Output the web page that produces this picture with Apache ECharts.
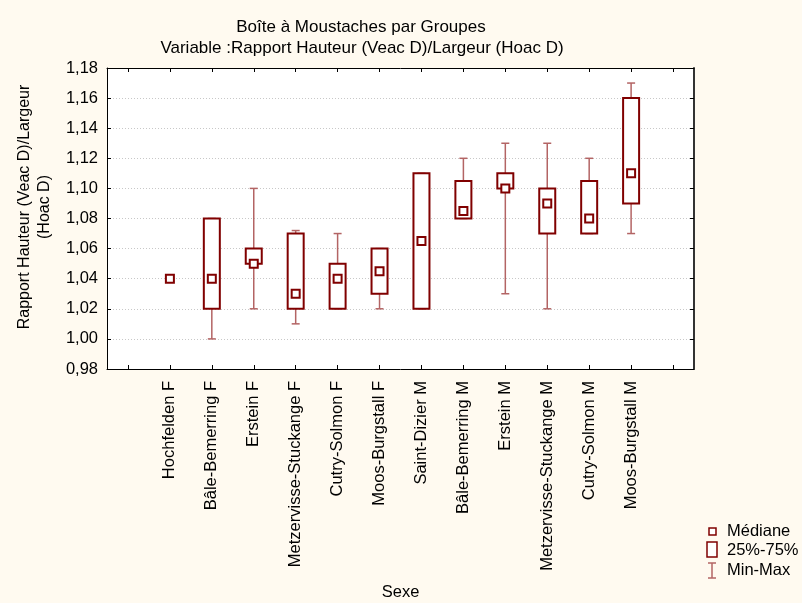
<!DOCTYPE html>
<html>
<head>
<meta charset="utf-8">
<script src="https://cdn.jsdelivr.net/npm/echarts@6/dist/echarts.min.js"></script>
<style>
  html, body { margin: 0; padding: 0; background: #fffaf0; }
  #chart { width: 802px; height: 603px; }
</style>
</head>
<body>
<div id="chart"></div>
<script>
// Groups along the x axis (an empty slot at each end leaves a margin)
const categories = ['', 'Hochfelden F', 'Bâle-Bemerring F', 'Erstein F', 'Metzervisse-Stuckange F',
  'Cutry-Solmon F', 'Moos-Burgstall F', 'Saint-Dizier M', 'Bâle-Bemerring M', 'Erstein M',
  'Metzervisse-Stuckange M', 'Cutry-Solmon M', 'Moos-Burgstall M', ''];

// Summary statistics per group (same order as the non-empty categories)
const minVals    = [1.04, 1.00, 1.02, 1.01,  1.02, 1.02,  1.02,  1.08,  1.03, 1.02, 1.07,  1.07];
const q1Vals     = [1.04, 1.02, 1.05, 1.02,  1.02, 1.03,  1.02,  1.08,  1.10, 1.07, 1.07,  1.09];
const medianVals = [1.04, 1.04, 1.05, 1.03,  1.04, 1.045, 1.065, 1.085, 1.10, 1.09, 1.08,  1.11];
const q3Vals     = [1.04, 1.08, 1.06, 1.07,  1.05, 1.06,  1.11,  1.105, 1.11, 1.10, 1.105, 1.16];
const maxVals    = [1.04, 1.08, 1.10, 1.072, 1.07, 1.06,  1.11,  1.12,  1.13, 1.13, 1.12,  1.17];

// Y axis tick labels
const yTickLabels = ['0,98', '1,00', '1,02', '1,04', '1,06', '1,08', '1,10', '1,12', '1,14', '1,16', '1,18'];

const FONT = '"Liberation Sans", Arial, sans-serif';
const AXIS_FONT_SIZE = 16.5;
const BOX_COLOR = '#800000';
const WHISKER_COLOR = '#b36464';

const boxData = medianVals.map((m, i) => [i + 1, minVals[i], q1Vals[i], m, q3Vals[i], maxVals[i]]);

function renderBox(params, api) {
  const x = api.value(0);
  const vMin = api.value(1), vQ1 = api.value(2), vMed = api.value(3), vQ3 = api.value(4), vMax = api.value(5);
  const pMin = api.coord([x, vMin]);
  const pQ1 = api.coord([x, vQ1]);
  const pMed = api.coord([x, vMed]);
  const pQ3 = api.coord([x, vQ3]);
  const pMax = api.coord([x, vMax]);
  const cx = pMed[0];
  const boxHalf = 8, capHalf = 4, medHalf = 4;
  const children = [];
  const wStyle = { stroke: WHISKER_COLOR, lineWidth: 1.5 };
  if (vMax !== vMin) {
    children.push({ type: 'line', shape: { x1: cx, y1: pQ3[1], x2: cx, y2: pMax[1] }, style: wStyle });
    children.push({ type: 'line', shape: { x1: cx, y1: pQ1[1], x2: cx, y2: pMin[1] }, style: wStyle });
    children.push({ type: 'line', shape: { x1: cx - capHalf, y1: pMax[1], x2: cx + capHalf, y2: pMax[1] }, style: wStyle });
    children.push({ type: 'line', shape: { x1: cx - capHalf, y1: pMin[1], x2: cx + capHalf, y2: pMin[1] }, style: wStyle });
  }
  if (vQ3 !== vQ1) {
    children.push({
      type: 'rect',
      shape: { x: cx - boxHalf, y: pQ3[1], width: boxHalf * 2, height: pQ1[1] - pQ3[1] },
      style: { fill: '#ffffff', stroke: BOX_COLOR, lineWidth: 2 }
    });
  }
  children.push({
    type: 'rect',
    shape: { x: cx - medHalf, y: pMed[1] - medHalf, width: medHalf * 2, height: medHalf * 2 },
    style: { fill: '#ffffff', stroke: BOX_COLOR, lineWidth: 2 }
  });
  return { type: 'group', children: children };
}

const chart = echarts.init(document.getElementById('chart'), null, { renderer: 'canvas' });

const legendX = 712;
const option = {
  backgroundColor: '#fffaf0',
  animation: false,
  textStyle: { fontFamily: FONT },
  title: [
    {
      text: 'Boîte à Moustaches par Groupes',
      left: 356, top: 14, textAlign: 'center',
      textStyle: { fontFamily: FONT, fontSize: 17, fontWeight: 'normal', color: '#000' }
    },
    {
      text: 'Variable :Rapport Hauteur (Veac D)/Largeur (Hoac D)',
      left: 357, top: 35, textAlign: 'center',
      textStyle: { fontFamily: FONT, fontSize: 17, fontWeight: 'normal', color: '#000' }
    }
  ],
  grid: {
    left: 107, right: 108, top: 68, bottom: 234,
    containLabel: false, outerBoundsMode: 'none',
    backgroundColor: '#ffffff', show: true, borderWidth: 0
  },
  xAxis: [
    {
      type: 'category',
      data: categories,
      boundaryGap: true,
      position: 'bottom',
      name: 'Sexe',
      nameLocation: 'middle',
      nameGap: 215,
      nameTextStyle: { fontFamily: FONT, fontSize: AXIS_FONT_SIZE, color: '#000' },
      axisLine: { show: true, lineStyle: { color: '#000', width: 1 } },
      axisTick: { show: true, inside: true, alignWithLabel: true, interval: 0, length: 4, lineStyle: { color: '#000' } },
      axisLabel: { interval: 0, rotate: 90, margin: 12, fontFamily: FONT, fontSize: AXIS_FONT_SIZE, color: '#000' },
      splitLine: { show: false }
    },
    {
      type: 'category',
      data: categories,
      boundaryGap: true,
      position: 'top',
      axisLine: { show: true, lineStyle: { color: '#000', width: 1 } },
      axisTick: { show: true, inside: true, alignWithLabel: true, interval: 0, length: 4, lineStyle: { color: '#000' } },
      axisLabel: { show: false },
      splitLine: { show: false }
    }
  ],
  yAxis: [
    {
      type: 'value',
      min: 0.98, max: 1.18, interval: 0.02,
      position: 'left',
      axisLine: { show: true, lineStyle: { color: '#000', width: 1 } },
      axisTick: { show: true, inside: true, length: 4, lineStyle: { color: '#000' } },
      axisLabel: {
        margin: 9, fontFamily: FONT, fontSize: AXIS_FONT_SIZE, color: '#000',
        formatter: function (v) {
          const idx = Math.round((v - 0.98) / 0.02);
          return yTickLabels[idx] !== undefined ? yTickLabels[idx] : '';
        }
      },
      splitLine: { show: true, lineStyle: { color: '#c8c8c8', type: [1, 2], width: 1 } }
    },
    {
      type: 'value',
      min: 0.98, max: 1.18, interval: 0.02,
      position: 'right',
      axisLine: { show: true, lineStyle: { color: '#333', width: 2 } },
      axisTick: { show: true, inside: true, length: 4, lineStyle: { color: '#000' } },
      axisLabel: { show: false },
      splitLine: { show: false }
    }
  ],
  graphic: [
    {
      type: 'text',
      x: 35, y: 207,
      rotation: Math.PI / 2,
      style: {
        text: 'Rapport Hauteur (Veac D)/Largeur\n(Hoac D)',
        fontFamily: FONT, fontSize: 16, lineHeight: 20,
        fill: '#000', align: 'center', verticalAlign: 'middle'
      }
    },
    // Legend: median marker
    { type: 'rect', shape: { x: legendX - 3, y: 528, width: 7, height: 7 }, style: { fill: '#fff', stroke: BOX_COLOR, lineWidth: 1.5 } },
    { type: 'text', x: 727, y: 531, style: { text: 'Médiane', fontFamily: FONT, fontSize: AXIS_FONT_SIZE, fill: '#000', verticalAlign: 'middle' } },
    // Legend: quartile box
    { type: 'rect', shape: { x: legendX - 5, y: 542, width: 10, height: 15 }, style: { fill: '#fff', stroke: BOX_COLOR, lineWidth: 1.5 } },
    { type: 'text', x: 727, y: 550, style: { text: '25%-75%', fontFamily: FONT, fontSize: AXIS_FONT_SIZE, fill: '#000', verticalAlign: 'middle' } },
    // Legend: whisker
    { type: 'line', shape: { x1: legendX, y1: 563, x2: legendX, y2: 578 }, style: { stroke: WHISKER_COLOR, lineWidth: 1.5 } },
    { type: 'line', shape: { x1: legendX - 4, y1: 563, x2: legendX + 4, y2: 563 }, style: { stroke: WHISKER_COLOR, lineWidth: 1.5 } },
    { type: 'line', shape: { x1: legendX - 4, y1: 578, x2: legendX + 4, y2: 578 }, style: { stroke: WHISKER_COLOR, lineWidth: 1.5 } },
    { type: 'text', x: 727, y: 570, style: { text: 'Min-Max', fontFamily: FONT, fontSize: AXIS_FONT_SIZE, fill: '#000', verticalAlign: 'middle' } }
  ],
  series: [
    {
      type: 'custom',
      name: 'Boîtes',
      xAxisIndex: 0,
      yAxisIndex: 0,
      renderItem: renderBox,
      encode: { x: 0, y: [1, 2, 3, 4, 5] },
      data: boxData,
      z: 10
    }
  ]
};

chart.setOption(option);
</script>
</body>
</html>
